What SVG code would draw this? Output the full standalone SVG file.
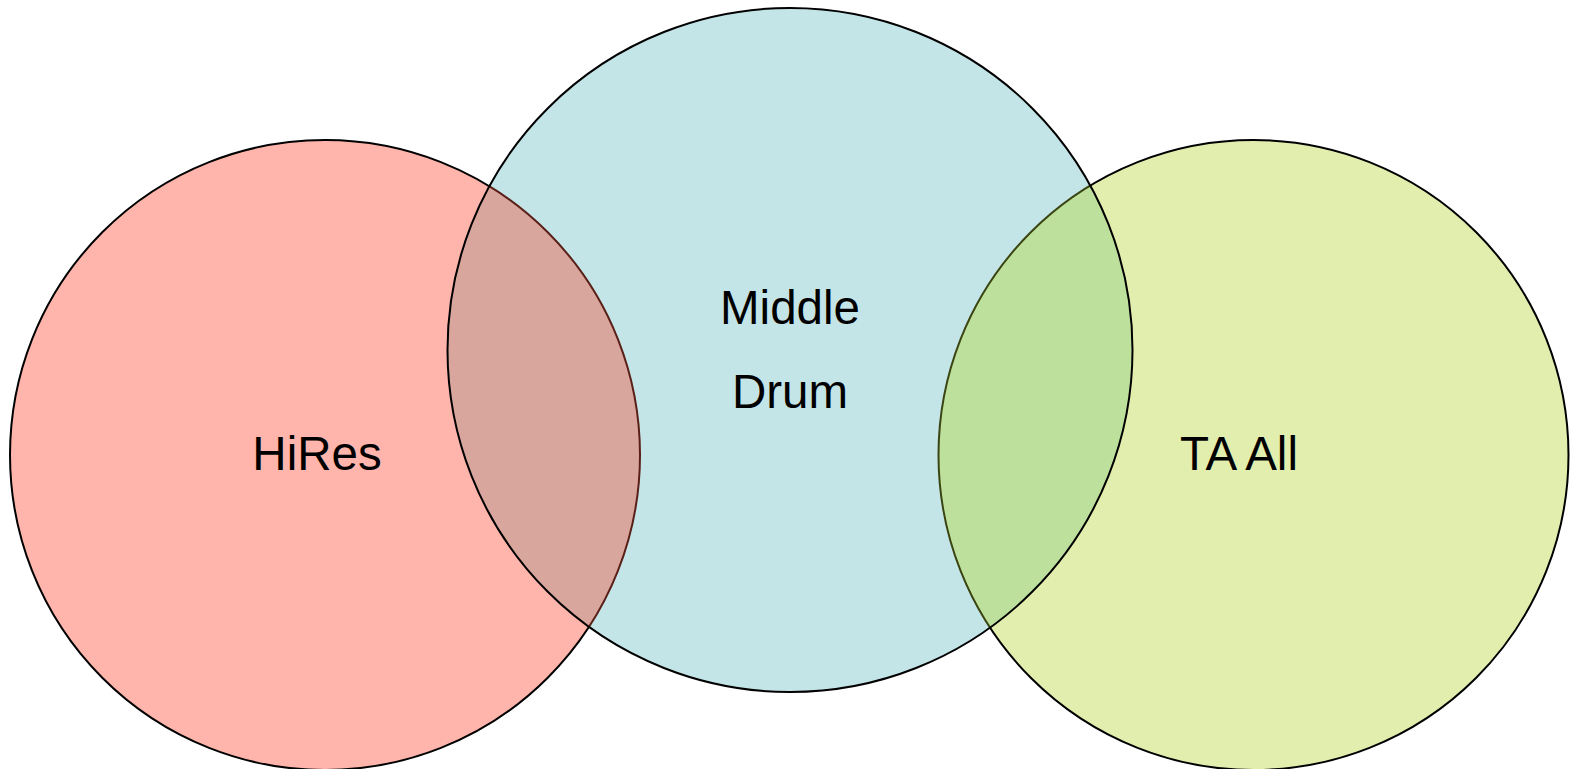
<svg xmlns="http://www.w3.org/2000/svg" width="1570" height="769" viewBox="0 0 1570 769">
<style>
.lbl{font-family:"Liberation Sans",Arial,sans-serif;font-size:47.5px;fill:#000;text-anchor:middle}
.edge{fill:none;stroke:#000;stroke-width:2}
</style>
<defs>
<clipPath id="clipMid"><ellipse cx="790" cy="350" rx="342.5" ry="342"/></clipPath>
</defs>
<rect width="1570" height="769" fill="#fff"/>
<g id="hires">
<circle cx="325" cy="455" r="315" style="fill:#FFB5AB;stroke:#000;stroke-width:2"/>
<text class="lbl" x="317" y="470">HiRes</text>
</g>
<g id="ta-all">
<circle cx="1253.5" cy="455" r="315" style="fill:#E2EEAE;stroke:#000;stroke-width:2"/>
<text class="lbl" x="1239" y="470">TA All</text>
</g>
<g id="middle-drum">
<ellipse cx="790" cy="350" rx="342.5" ry="342" fill="#C4E5E8"/>
<g clip-path="url(#clipMid)">
<circle cx="325" cy="455" r="315" fill="#D8A69D" stroke="#5A2018" stroke-width="2"/>
<circle cx="1253.5" cy="455" r="315" fill="#BDE09D" stroke="#3A4512" stroke-width="2"/>
</g>
<ellipse cx="790" cy="350" rx="342.5" ry="342" class="edge"/>
<text class="lbl" x="790" y="324">Middle</text>
<text class="lbl" x="790" y="408">Drum</text>
</g>
<g id="connectors"/>
</svg>
